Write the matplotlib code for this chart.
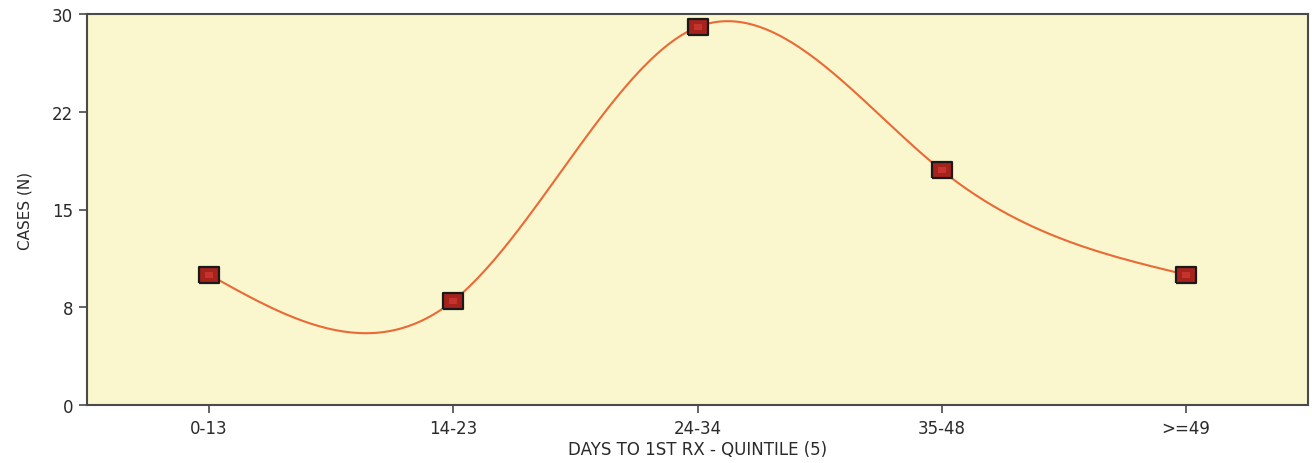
import numpy as np
import matplotlib
matplotlib.use("Agg")
import matplotlib.pyplot as plt

plt.rcParams["font.family"] = ["DejaVu Sans"]

categories = ["0-13", "14-23", "24-34", "35-48", ">=49"]
cases = [10, 8, 29, 18, 10]
ytick_vals = [0, 7.5, 15, 22.5, 30]
ytick_labels = ["0", "8", "15", "22", "30"]


def natural_spline(x, y, n=60):
    x = np.asarray(x, float)
    y = np.asarray(y, float)
    k = len(x)
    h = np.diff(x)
    A = np.zeros((k, k))
    b = np.zeros(k)
    A[0, 0] = 1
    A[-1, -1] = 1
    for i in range(1, k - 1):
        A[i, i - 1] = h[i - 1]
        A[i, i] = 2 * (h[i - 1] + h[i])
        A[i, i + 1] = h[i]
        b[i] = 6 * ((y[i + 1] - y[i]) / h[i] - (y[i] - y[i - 1]) / h[i - 1])
    M = np.linalg.solve(A, b)
    xs, ys = [], []
    for i in range(k - 1):
        t = np.linspace(0, 1, n, endpoint=(i == k - 2))
        hh = h[i]
        s = ((1 - t) * y[i] + t * y[i + 1]
             + ((1 - t) ** 3 - (1 - t)) * M[i] * hh ** 2 / 6
             + (t ** 3 - t) * M[i + 1] * hh ** 2 / 6)
        xs.append(x[i] + t * hh)
        ys.append(s)
    return np.concatenate(xs), np.concatenate(ys)


fig = plt.figure(figsize=(13.12, 4.64), dpi=100)
ax = fig.add_axes([87 / 1312, 58 / 464, (1308 - 87) / 1312, (406 - 15) / 464])
ax.set_facecolor("#FAF6CE")

xpos = np.arange(len(categories))
sx, sy = natural_spline(xpos, cases)
ax.plot(sx, sy, color="#EA6A35", lw=1.5, zorder=2)

rect = [(-1.3, -1), (1.3, -1), (1.3, 1), (-1.3, 1), (-1.3, -1)]
ax.plot(xpos, cases, linestyle="none", marker=rect, markersize=14.5,
        markerfacecolor="#A6221C", markeredgecolor="#1A1A1A", markeredgewidth=1.6,
        zorder=3)
ax.plot(xpos, cases, linestyle="none", marker=rect, markersize=6,
        markerfacecolor="#C4342C", markeredgewidth=0, zorder=4)

ax.set_xlim(-0.5, 4.5)
ax.set_ylim(0, 30)
ax.set_xticks(xpos)
ax.set_xticklabels(categories)
ax.set_yticks(ytick_vals)
ax.set_yticklabels(ytick_labels)

for sp in ax.spines.values():
    sp.set_color("#4A4A4A")
    sp.set_linewidth(1.5)

ax.tick_params(axis="both", direction="out", length=6, width=1.2, color="#4A4A4A",
               labelsize=12, labelcolor="#2A2A2A", pad=4)

ax.set_xlabel("DAYS TO 1ST RX - QUINTILE (5)", fontsize=12, color="#2A2A2A", labelpad=2)
ax.set_ylabel("CASES (N)", fontsize=11, color="#2A2A2A", labelpad=14)

fig.savefig("out.png", dpi=100)
